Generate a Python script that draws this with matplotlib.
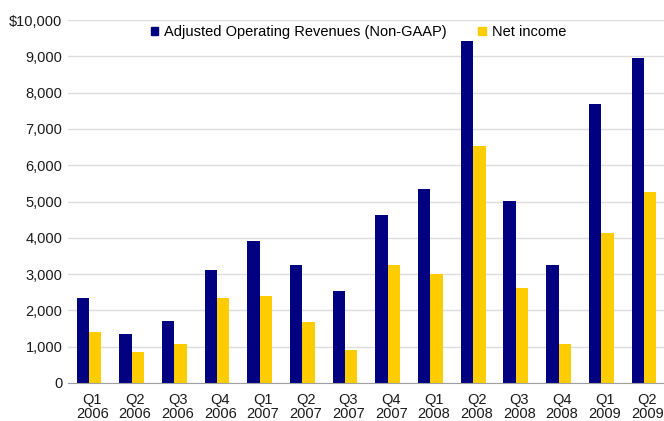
import numpy as np
import matplotlib.pyplot as plt
from matplotlib.patches import Patch

plt.rcParams['font.family'] = ['Liberation Sans', 'DejaVu Sans']

quarters = ['Q1\n2006', 'Q2\n2006', 'Q3\n2006', 'Q4\n2006',
            'Q1\n2007', 'Q2\n2007', 'Q3\n2007', 'Q4\n2007',
            'Q1\n2008', 'Q2\n2008', 'Q3\n2008', 'Q4\n2008',
            'Q1\n2009', 'Q2\n2009']
revenues = [2340, 1350, 1710, 3110, 3910, 3250, 2530, 4630, 5340, 9420, 5010, 3250, 7690, 8950]
net_income = [1400, 850, 1070, 2340, 2400, 1680, 910, 3250, 3000, 6530, 2620, 1070, 4130, 5260]
yticks = [0, 1000, 2000, 3000, 4000, 5000, 6000, 7000, 8000, 9000, 10000]
ytick_labels = ['0', '1,000', '2,000', '3,000', '4,000', '5,000', '6,000',
                '7,000', '8,000', '9,000', '$10,000']

blue = '#000080'
yellow = '#ffcc00'

fig = plt.figure(figsize=(6.64, 4.21), dpi=100)
ax = fig.add_axes([68 / 664, 38 / 421, 1 - 68 / 664, 363 / 421])

x = np.arange(len(quarters))
w = 0.29
ax.bar(x - w / 2, revenues, width=w, color=blue, zorder=3)
ax.bar(x + w / 2, net_income, width=w, color=yellow, zorder=3)

ax.set_xlim(-0.49, len(quarters) - 0.53)
ax.set_ylim(0, 10000)
ax.set_yticks(yticks)
ax.set_yticklabels(ytick_labels, fontsize=10.5)
# labels sit a touch right of the bar pairs in the original
ax.set_xticks(x + 0.08)
ax.set_xticklabels(quarters, fontsize=10.5, linespacing=0.95)
ax.tick_params(axis='both', length=0, colors='#1a1a1a')
ax.tick_params(axis='y', pad=4)
ax.tick_params(axis='x', pad=7.5)

ax.grid(axis='y', color='#dcdcdc', linewidth=1, zorder=0)
for s in ['top', 'right', 'left']:
    ax.spines[s].set_visible(False)
ax.spines['bottom'].set_color('#a0a0a0')
ax.spines['bottom'].set_zorder(4)

handles = [Patch(color=blue), Patch(color=yellow)]
ax.legend(handles, ['Adjusted Operating Revenues (Non-GAAP)', 'Net income'],
          loc='center', bbox_to_anchor=(0.487, 0.967), ncol=2, frameon=False,
          fontsize=10.5, handlelength=0.5, handleheight=0.5, handletextpad=0.4,
          columnspacing=2.2, borderpad=0, borderaxespad=0)

fig.savefig('out.png', dpi=100)
